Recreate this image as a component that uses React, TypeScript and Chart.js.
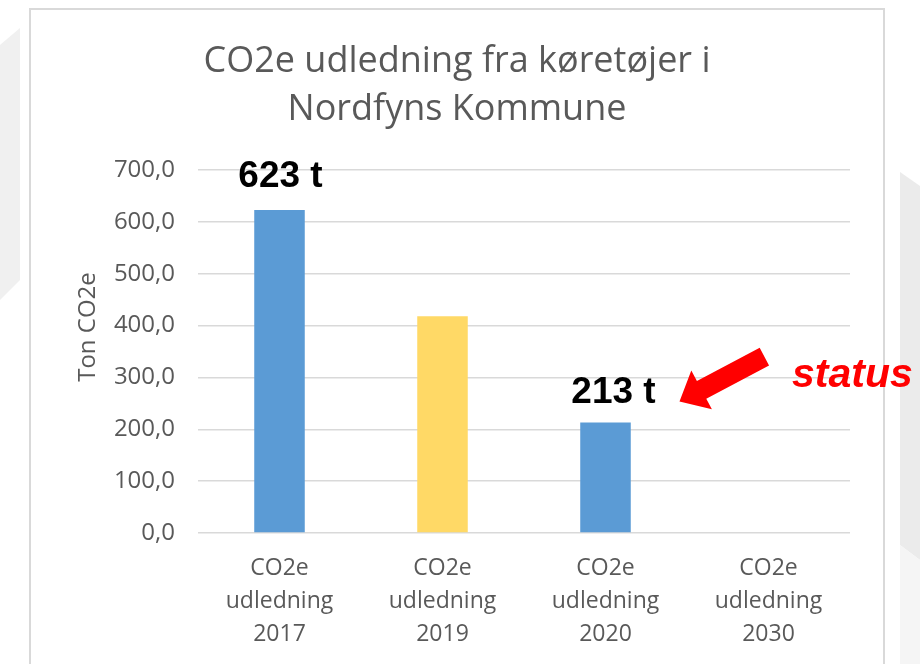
import React, { useEffect, useRef } from "react";
import { Chart, registerables } from "chart.js";

Chart.register(...registerables);

const titleLines = ["CO2e udledning fra køretøjer i", "Nordfyns Kommune"];
const categories = [
  ["CO2e", "udledning", "2017"],
  ["CO2e", "udledning", "2019"],
  ["CO2e", "udledning", "2020"],
  ["CO2e", "udledning", "2030"],
];
const values = [623, 418, 213, 0];
const barColors = ["#5b9bd5", "#ffd966", "#5b9bd5", "#5b9bd5"];
const valueLabels = ["623 t", "", "213 t", ""];
const yAxisTitle = "Ton CO2e";
const yMin = 0;
const yMax = 700;
const yStep = 100;
const statusText = "status";

const FONT = "'Open Sans', 'Noto Sans', sans-serif";
const GRAY = "#595959";

const decorPlugin = {
  id: "decor",
  beforeDraw(chart: any) {
    const { ctx, width, height } = chart;
    ctx.save();
    ctx.fillStyle = "#ffffff";
    ctx.fillRect(0, 0, width, height);
    // slide background shapes
    ctx.fillStyle = "#f0f0f0";
    ctx.beginPath();
    ctx.moveTo(0, 45);
    ctx.lineTo(20, 28);
    ctx.lineTo(20, 280);
    ctx.lineTo(0, 300);
    ctx.closePath();
    ctx.fill();
    ctx.fillStyle = "#ebebeb";
    ctx.beginPath();
    ctx.moveTo(900, 172);
    ctx.lineTo(920, 186);
    ctx.lineTo(920, 560);
    ctx.lineTo(900, 545);
    ctx.closePath();
    ctx.fill();
    ctx.fillStyle = "#f5f5f5";
    ctx.beginPath();
    ctx.moveTo(900, 545);
    ctx.lineTo(920, 560);
    ctx.lineTo(920, 664);
    ctx.lineTo(900, 664);
    ctx.closePath();
    ctx.fill();
    // chart box
    ctx.fillStyle = "#ffffff";
    ctx.fillRect(30, 9, 854, 670);
    ctx.strokeStyle = "#d9d9d9";
    ctx.lineWidth = 2;
    ctx.strokeRect(30, 9, 854, 670);
    ctx.restore();
  },
  afterDraw(chart: any) {
    const { ctx } = chart;
    ctx.save();
    // title
    ctx.fillStyle = GRAY;
    ctx.font = `36px ${FONT}`;
    ctx.textAlign = "center";
    ctx.textBaseline = "middle";
    titleLines.forEach((t, i) => ctx.fillText(t, 457, 62 + i * 48));

    // y axis title
    ctx.save();
    ctx.translate(88, 327);
    ctx.rotate(-Math.PI / 2);
    ctx.font = `24px ${FONT}`;
    ctx.fillText(yAxisTitle, 0, 0);
    ctx.restore();

    // value labels
    const meta = chart.getDatasetMeta(0);
    ctx.fillStyle = "#000000";
    ctx.font = "bold 37px 'Liberation Sans', Arial, sans-serif";
    valueLabels.forEach((lab, i) => {
      if (!lab) return;
      const el = meta.data[i];
      const dx = i === 2 ? 8 : 1;
      const dy = i === 2 ? 30 : 33;
      ctx.fillText(lab, el.x + dx, el.y - dy);
    });

    // arrow pointing at the 2020 label
    const el2 = meta.data[2];
    const tipX = el2.x + 74;
    const tipY = el2.y - 21;
    const dirX = 0.884, dirY = -0.468;
    const pX = 0.468, pY = 0.884;
    const L = 96, headL = 25, headW = 22, shaftW = 10;
    const bx = tipX + dirX * headL, by = tipY + dirY * headL;
    const tx = tipX + dirX * L, ty = tipY + dirY * L;
    ctx.fillStyle = "#ff0000";
    ctx.beginPath();
    ctx.moveTo(tipX, tipY);
    ctx.lineTo(bx + pX * headW, by + pY * headW);
    ctx.lineTo(bx + pX * shaftW, by + pY * shaftW);
    ctx.lineTo(tx + pX * shaftW, ty + pY * shaftW);
    ctx.lineTo(tx - pX * shaftW, ty - pY * shaftW);
    ctx.lineTo(bx - pX * shaftW, by - pY * shaftW);
    ctx.lineTo(bx - pX * headW, by - pY * headW);
    ctx.closePath();
    ctx.fill();

    ctx.font = "italic bold 41px 'Liberation Sans', Arial, sans-serif";
    ctx.textAlign = "left";
    ctx.textBaseline = "alphabetic";
    ctx.fillText(statusText, 792, 387);
    ctx.restore();
  },
};

export default function App() {
  const ref = useRef<HTMLCanvasElement | null>(null);
  useEffect(() => {
    document.body.style.margin = "0";
    if (!ref.current) return;
    const chart = new Chart(ref.current, {
      type: "bar",
      data: {
        labels: categories,
        datasets: [
          {
            data: values,
            backgroundColor: barColors,
            borderWidth: 0,
            barPercentage: 0.62,
            categoryPercentage: 0.5,
          },
        ],
      },
      options: {
        animation: false,
        responsive: false,
        layout: { padding: { left: 30, right: 70, top: 170, bottom: 11 } },
        plugins: {
          legend: { display: false },
          title: { display: false },
          tooltip: { enabled: false },
        },
        scales: {
          x: {
            grid: { display: false, drawTicks: false },
            border: { display: false },
            ticks: {
              color: GRAY,
              font: { family: FONT, size: 23, lineHeight: 1.43 },
              padding: 19,
              maxRotation: 0,
              autoSkip: false,
            },
            afterFit: (s: any) => {
              s.height = 120;
            },
          },
          y: {
            min: yMin,
            max: yMax,
            grid: { color: "#d9d9d9", lineWidth: 1.5, drawTicks: false },
            border: { display: false },
            ticks: {
              stepSize: yStep,
              color: GRAY,
              font: { family: FONT, size: 24 },
              padding: 23,
              callback: (v: any) => Number(v).toFixed(1).replace(".", ","),
            },
            title: { display: false },
            afterFit: (s: any) => {
              s.width = 168;
            },
          },
        },
      },
      plugins: [decorPlugin],
    });
    return () => chart.destroy();
  }, []);
  return <canvas ref={ref} width={920} height={664} style={{ display: "block" }} />;
}
